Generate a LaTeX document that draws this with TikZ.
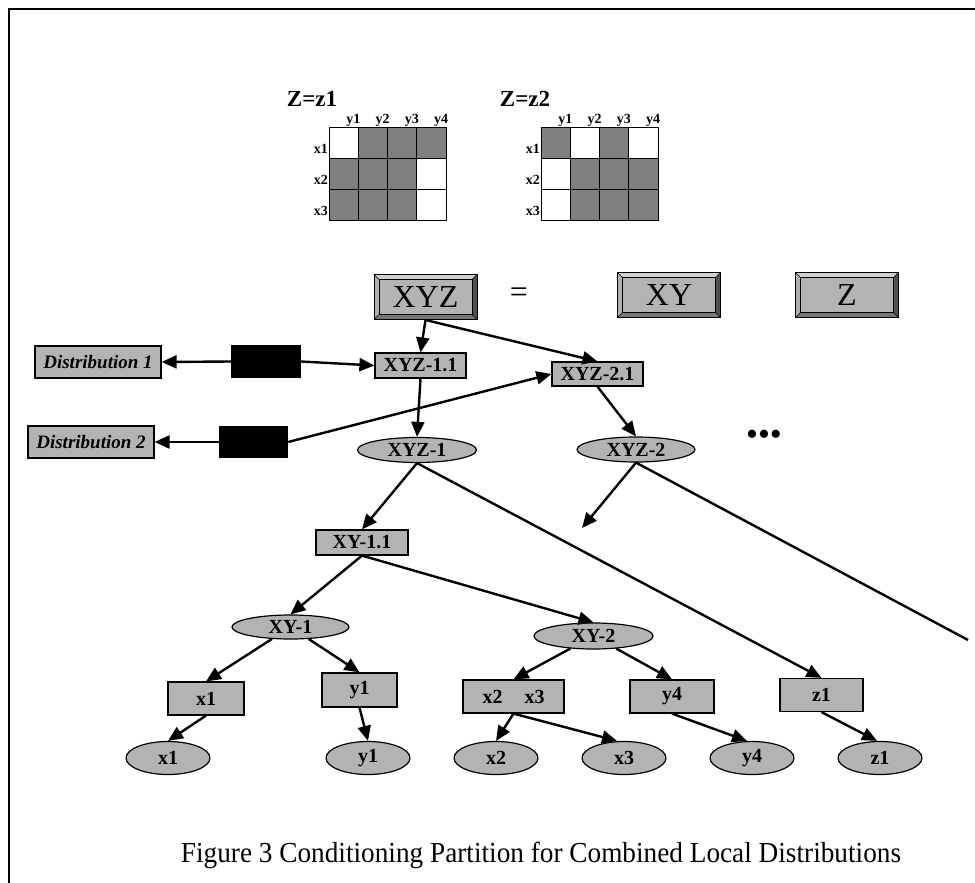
\documentclass[tikz,border=0pt]{standalone}
\usepackage{fontspec}
\setmainfont{Liberation Serif}
\usetikzlibrary{arrows.meta,positioning,shapes.geometric}

\definecolor{boxgray}{HTML}{B3B3B3}
\definecolor{cellgray}{HTML}{808080}
\definecolor{bevtop}{HTML}{D0D0D0}
\definecolor{bevleft}{HTML}{B0B0B0}
\definecolor{bevright}{HTML}{505050}
\definecolor{bevbottom}{HTML}{787878}

\tikzset{
  arr/.style={-{Triangle[length=15pt,width=13pt]}, line width=2.4pt},
  conn/.style={line width=2.4pt},
  tbox/.style={draw=black, line width=1.2pt, fill=boxgray, inner sep=0pt,
    font=\fontsize{20}{20}\selectfont\bfseries},
  tell/.style={tbox, ellipse},
  dbox/.style={tbox, font=\fontsize{19}{19}\selectfont\bfseries\itshape},
  blk/.style={fill=black, inner sep=0pt},
  lbl/.style={inner sep=0pt, font=\fontsize{14}{14}\selectfont\bfseries},
  ttl/.style={inner sep=0pt, font=\fontsize{23}{23}\selectfont\bfseries},
  bevelbox/.style={draw=black, line width=1pt, fill=boxgray, inner sep=0pt,
    minimum width=103pt, minimum height=45pt,
    font=\fontsize{32}{32}\selectfont,
    path picture={
      \path (path picture bounding box.north west) coordinate (pa)
            (path picture bounding box.north east) coordinate (pb)
            (path picture bounding box.south east) coordinate (pc)
            (path picture bounding box.south west) coordinate (pd)
            ([shift={(5pt,-5pt)}]pa) coordinate (qa)
            ([shift={(-5pt,-5pt)}]pb) coordinate (qb)
            ([shift={(-5pt,5pt)}]pc) coordinate (qc)
            ([shift={(5pt,5pt)}]pd) coordinate (qd);
      \fill[bevtop] (pa) -- (pb) -- (qb) -- (qa) -- cycle;
      \fill[bevleft] (pa) -- (qa) -- (qd) -- (pd) -- cycle;
      \fill[bevright] (pb) -- (pc) -- (qc) -- (qb) -- cycle;
      \fill[bevbottom] (pd) -- (qd) -- (qc) -- (pc) -- cycle;
      \draw[line width=0.6pt] (pa) -- (qa) (pb) -- (qb) (pc) -- (qc) (pd) -- (qd);
      \draw[line width=1pt] (qa) rectangle (qc);
    }},
}

\begin{document}
\begin{tikzpicture}[x=1pt,y=-1pt]
\useasboundingbox (0,0) rectangle (975,883);
\draw[line width=2pt] (975,9) -- (9,9) -- (9,883);

% the two tables
\node[ttl] (za) at (312,99) {Z=z1};
\node[ttl] (zb) at (525,99) {Z=z2};
\foreach \r/\row in {1/{white,cellgray,cellgray,cellgray},2/{cellgray,cellgray,cellgray,white},3/{cellgray,cellgray,cellgray,white}}
  \foreach \col [count=\c] in \row
    \filldraw[draw=black, line width=1pt, fill=\col] ({329+(\c-1)*29.25},{127+(\r-1)*31}) rectangle ++(29.25,31);
\foreach \r/\row in {1/{cellgray,white,cellgray,white},2/{white,cellgray,cellgray,cellgray},3/{white,cellgray,cellgray,cellgray}}
  \foreach \col [count=\c] in \row
    \filldraw[draw=black, line width=1pt, fill=\col] ({541+(\c-1)*29.25},{127+(\r-1)*31}) rectangle ++(29.25,31);
\foreach \c in {1,...,4} {
  \node[lbl] (ya\c) at ({329+\c*29.25-5},120) {y\c};
  \node[lbl] (yb\c) at ({541+\c*29.25-5},120) {y\c};
}
\foreach \r in {1,2,3} {
  \node[lbl,anchor=east] (xa\r) at (328,{127+\r*31-9}) {x\r};
  \node[lbl,anchor=east] (xb\r) at (540,{127+\r*31-9}) {x\r};
}

% XYZ = XY Z
\draw (425.5,297) node[bevelbox] (xyz) {XYZ};
\draw (519,295) node[font=\fontsize{32}{32}\selectfont] (eq) {=};
\draw (669,295) node[bevelbox] (xy) {XY};
\draw (847,295) node[bevelbox] (z) {Z};

% first levels
\draw (98,362) node[dbox,minimum width=126pt,minimum height=32pt] (dist1) {Distribution 1};
\draw (266,361.5) node[blk,minimum width=70pt,minimum height=33pt] (blk1) {};
\draw (420.5,365.5) node[tbox,minimum width=91pt,minimum height=25pt] (xyz11) {XYZ-1.1};
\draw (597.5,374) node[tbox,minimum width=91pt,minimum height=24pt] (xyz21) {XYZ-2.1};
\draw (91,442) node[dbox,minimum width=126pt,minimum height=32pt] (dist2) {Distribution 2};
\draw (253.5,442) node[blk,minimum width=69pt,minimum height=32pt] (blk2) {};
\draw (417,450) node[tell,minimum width=119pt,minimum height=25pt] (xyz1) {XYZ-1};
\draw (636,449.5) node[tell,minimum width=118pt,minimum height=25pt] (xyz2) {XYZ-2};
\draw (764,438) node[font=\fontsize{34}{34}\selectfont] (dots) {\textbullet\textbullet\textbullet};
\coordinate (more) at (582,528);
\coordinate (farend) at (968,640);

\draw[arr] (xyz.south) -- (xyz11.north);
\draw[arr] (xyz.south) -- (xyz21.north);
\draw[arr] (blk1.west) -- (dist1.east);
\draw[arr] (blk1.east) -- (xyz11.west);
\draw[arr] (blk2.west) -- (dist2.east);
\draw[arr] (blk2.east) -- (xyz21.west);
\draw[arr] (xyz11.south) -- (xyz1.north);
\draw[arr] (xyz21.south) -- (xyz2.north);
\draw[arr] (xyz2.south) -- (more);
\draw[conn] (xyz2.south) -- (farend);

% XY part
\draw (362,542.5) node[tbox,minimum width=92pt,minimum height=25pt] (xy11) {XY-1.1};
\draw (290.5,627) node[tell,minimum width=117pt,minimum height=24pt] (xy1) {XY-1};
\draw (593.5,636) node[tell,minimum width=119pt,minimum height=26pt] (xy2) {XY-2};
\draw (206,698.5) node[tbox,minimum width=76pt,minimum height=33pt] (bx1) {x1};
\draw (359.5,690) node[tbox,minimum width=75pt,minimum height=34pt] (by1) {y1};
\draw (513.5,696.5) node[tbox,minimum width=101pt,minimum height=33pt] (bx23) {x2\hspace{22pt}x3};
\draw (672,696.5) node[tbox,minimum width=84pt,minimum height=33pt] (by4) {y4};
\draw (821.5,695) node[tbox,minimum width=83pt,minimum height=33pt] (bz1) {z1};
\foreach \n/\x/\t in {ex1/168/x1, ey1/368/y1, ex2/496/x2, ex3/624/x3, ey4/752/y4, ez1/880/z1}
  \draw (\x,758) node[tell,minimum width=84pt,minimum height=33pt] (\n) {\t};

\draw[arr] (xyz1.south) -- (xy11.north);
\draw[arr] (xyz1.south) -- (bz1.north);
\draw[arr] (xy11.south) -- (xy1.north);
\draw[arr] (xy11.south) -- (xy2.north);
\draw[arr] (xy1) -- (bx1.north);
\draw[arr] (xy1) -- (by1.north);
\draw[arr] (xy2) -- (bx23.north);
\draw[arr] (xy2) -- (by4.north);
\draw[arr] (bx1.south) -- (ex1.north);
\draw[arr] (by1.south) -- (ey1.north);
\draw[arr] (bx23.south) -- (ex2.north);
\draw[arr] (bx23.south) -- ([xshift=-7pt]ex3.north);
\draw[arr] (by4.south) -- ([xshift=-5pt]ey4.north);
\draw[arr] (bz1.south) -- ([xshift=-3pt]ez1.north);

\node[font=\fontsize{29}{29}\selectfont, xscale=0.94, transform shape, anchor=base] (cap) at (541,862) {Figure 3 Conditioning Partition for Combined Local Distributions};
\end{tikzpicture}
\end{document}
